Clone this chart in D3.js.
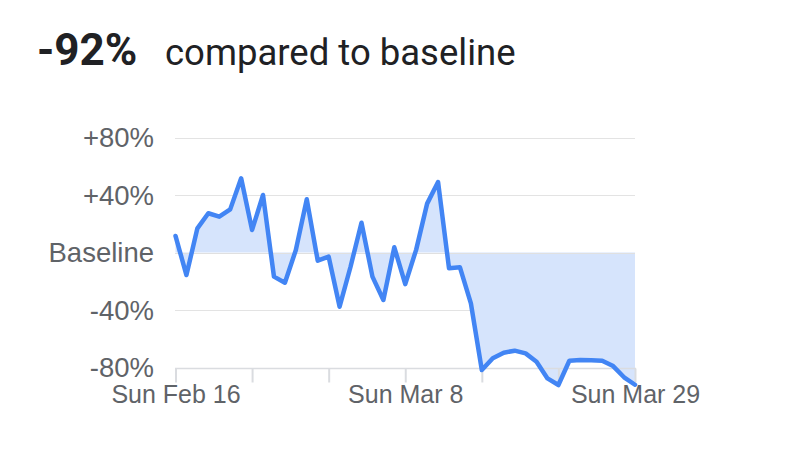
<!DOCTYPE html>
<html><head><meta charset="utf-8">
<script src="https://cdn.jsdelivr.net/npm/d3@7"></script>
<style>
html,body{margin:0;padding:0;background:#fff;}
svg{display:block;}
</style></head>
<body>
<svg id="chart" width="790" height="454"></svg>
<script>
const dates = ["2020-02-16","2020-02-17","2020-02-18","2020-02-19","2020-02-20","2020-02-21","2020-02-22",
"2020-02-23","2020-02-24","2020-02-25","2020-02-26","2020-02-27","2020-02-28","2020-02-29",
"2020-03-01","2020-03-02","2020-03-03","2020-03-04","2020-03-05","2020-03-06","2020-03-07",
"2020-03-08","2020-03-09","2020-03-10","2020-03-11","2020-03-12","2020-03-13","2020-03-14",
"2020-03-15","2020-03-16","2020-03-17","2020-03-18","2020-03-19","2020-03-20","2020-03-21",
"2020-03-22","2020-03-23","2020-03-24","2020-03-25","2020-03-26","2020-03-27","2020-03-28",
"2020-03-29"];
const values = [11.5, -15.7, 16.8, 27.3, 24.9, 30, 51.6, 15.7, 40, -16.8, -21, 1.7, 37, -5.7,
 -2.9, -37.7, -9.9, 20.7, -16.8, -33, 3.6, -22, 2, 34, 49, -11, -10.3, -35.4,
 -81.8, -73.6, -69.7, -68.3, -70.2, -76, -87.6, -92.2, -75.3, -74.8, -75, -75.3, -79, -86.8, -92];
const yTicks = [-80, -40, 0, 40, 80];
const yTickLabels = ["-80%", "-40%", "Baseline", "+40%", "+80%"];
const xLabelDates = ["2020-02-16", "2020-03-08", "2020-03-29"];
const headline = "-92%";
const subtitle = "compared to baseline";

const parse = d3.utcParse("%Y-%m-%d");
const data = dates.map((d, i) => ({date: parse(d), value: values[i]}));

const svg = d3.select("#chart");
const x = d3.scaleUtc().domain([parse(dates[0]), parse(dates[dates.length-1])]).range([175.5, 635]);
const y = d3.scaleLinear().domain([-80, 80]).range([367.5, 137.5]);

// title
const title = svg.append("text").attr("x", 37).attr("y", 65)
  .style("font-family", "Roboto, 'Liberation Sans', Arial, sans-serif").attr("fill", "#202124");
title.append("tspan").text(headline).style("font-weight", "700").style("font-size", "44px");
title.append("tspan").attr("x", 165).text(subtitle).style("font-size", "36.5px");

// gridlines
svg.append("g").selectAll("line").data(yTicks.filter(t => t > -80)).join("line")
  .attr("x1", 175).attr("x2", 635)
  .attr("y1", d => Math.round(y(d)) + 0.5).attr("y2", d => Math.round(y(d)) + 0.5)
  .attr("stroke", "#e3e3e3").attr("stroke-width", 1);

// area
const area = d3.area().x(d => x(d.date)).y0(y(0)).y1(d => y(d.value));
svg.append("path").datum(data).attr("d", area).attr("fill", "#d6e4fc");

// baseline line over fill
svg.append("line").attr("x1", 175).attr("x2", 635)
  .attr("y1", Math.round(y(0)) + 0.5).attr("y2", Math.round(y(0)) + 0.5)
  .attr("stroke", "#e0e0e0").attr("stroke-width", 1);

// x axis
const weekly = d3.utcWeek.range(parse(dates[0]), d3.utcDay.offset(parse(dates[dates.length-1]), 1));
const xAxis = d3.axisBottom(x).tickValues(weekly).tickSize(14).tickSizeOuter(0)
  .tickFormat(d => {
    const s = d3.utcFormat("%Y-%m-%d")(d);
    return xLabelDates.includes(s) ? "Sun " + d3.utcFormat("%b")(d) + " " + d.getUTCDate() : "";
  });
const gx = svg.append("g").attr("transform", `translate(0,${Math.round(y(-80)) + 0.5})`).call(xAxis);
gx.select(".domain").attr("stroke", "#dadce0").attr("stroke-width", 1.5).attr("d", "M175,0H636");
gx.selectAll(".tick line").attr("stroke", "#dadce0").attr("stroke-width", 2);
gx.selectAll(".tick text").attr("fill", "#5f6368").attr("y", 17).attr("dy", "0.71em")
  .style("font-family", "'Liberation Sans', Arial, sans-serif").style("font-size", "25px");

// y labels
svg.append("g").selectAll("text").data(yTicks).join("text")
  .attr("x", 154).attr("y", d => y(d)).attr("dy", "0.36em")
  .attr("text-anchor", "end").attr("fill", "#5f6368")
  .style("font-family", "'Liberation Sans', Arial, sans-serif").style("font-size", "27.5px")
  .text((d, i) => yTickLabels[i]);

// line
const line = d3.line().x(d => x(d.date)).y(d => y(d.value));
svg.append("path").datum(data).attr("d", line).attr("fill", "none")
  .attr("stroke", "#4285f4").attr("stroke-width", 4.5).attr("stroke-linejoin", "round").attr("stroke-linecap", "round");
</script>
</body></html>
